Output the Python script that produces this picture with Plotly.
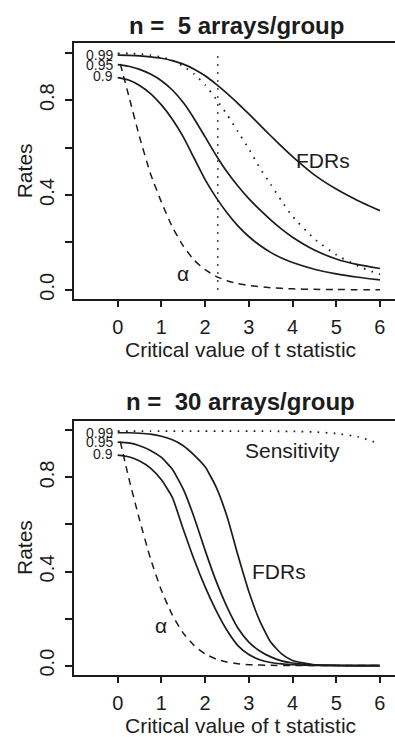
import plotly.graph_objects as go

# ---------------- data ----------------
t_grid = [0, 0.25, 0.5, 0.75, 1.0, 1.25, 1.5, 1.75, 2.0, 2.25, 2.5, 2.75,
          3.0, 3.25, 3.5, 3.75, 4.0, 4.5, 5.0, 5.5, 6.0]
t_alpha = [0.06, 0.25, 0.5, 0.75, 1.0, 1.25, 1.5, 1.75, 2.0, 2.25, 2.5, 2.75,
           3.0, 3.5, 4.0, 4.5, 5.0, 6.0]

# n = 5 arrays/group
fdr5_099 = [0.99, 0.989, 0.987, 0.983, 0.977, 0.967, 0.952, 0.931, 0.903, 0.868, 0.829,
            0.787, 0.742, 0.696, 0.65, 0.605, 0.562, 0.485, 0.425, 0.376, 0.334]
fdr5_095 = [0.95, 0.943, 0.93, 0.91, 0.882, 0.843, 0.79, 0.722, 0.645, 0.568, 0.498,
            0.438, 0.385, 0.338, 0.295, 0.256, 0.222, 0.168, 0.13, 0.106, 0.09]
fdr5_090 = [0.895, 0.885, 0.862, 0.828, 0.78, 0.72, 0.645, 0.555, 0.465, 0.39, 0.325,
            0.27, 0.225, 0.188, 0.158, 0.134, 0.115, 0.087, 0.067, 0.053, 0.042]
sens5 = [0.997, 0.997, 0.995, 0.99, 0.982, 0.967, 0.943, 0.91, 0.865, 0.805, 0.74,
         0.667, 0.595, 0.515, 0.445, 0.375, 0.31, 0.215, 0.148, 0.1, 0.065]
alpha5 = [0.953, 0.82, 0.645, 0.49, 0.37, 0.265, 0.185, 0.125, 0.085, 0.057, 0.038,
          0.026, 0.018, 0.009, 0.004, 0.002, 0.001, 0.0003]
tcrit5 = 2.29

# n = 30 arrays/group
fdr30_099 = [0.99, 0.99, 0.988, 0.984, 0.975, 0.96, 0.935, 0.895, 0.845, 0.76, 0.635,
             0.47, 0.315, 0.19, 0.1, 0.05, 0.022, 0.003, 0.0005, 0.0, 0.0]
fdr30_095 = [0.95, 0.947, 0.935, 0.915, 0.885, 0.835, 0.75, 0.63, 0.49, 0.36, 0.25,
             0.16, 0.1, 0.062, 0.037, 0.02, 0.011, 0.003, 0.001, 0.0, 0.0]
fdr30_090 = [0.895, 0.888, 0.87, 0.84, 0.79, 0.715, 0.58, 0.45, 0.335, 0.235, 0.15,
             0.085, 0.047, 0.025, 0.013, 0.007, 0.0035, 0.001, 0.0003, 0.0, 0.0]
sens30 = [0.997, 0.997, 0.997, 0.997, 0.997, 0.997, 0.997, 0.997, 0.997, 0.997, 0.997,
          0.997, 0.997, 0.997, 0.997, 0.996, 0.996, 0.993, 0.987, 0.973, 0.943]
alpha30 = [0.952, 0.80, 0.62, 0.455, 0.32, 0.215, 0.138, 0.085, 0.05, 0.028, 0.015,
           0.008, 0.004, 0.001, 0.0002, 0.0, 0.0, 0.0]

pi0_labels = ["0.99", "0.95", "0.9"]
pi0_values = [0.99, 0.95, 0.9]
x_ticks = [0, 1, 2, 3, 4, 5, 6]
y_ticks = [0, 0.2, 0.4, 0.6, 0.8, 1.0]
y_ticktext = ["0.0", "", "0.4", "", "0.8", ""]
titles = ["n = \u00a05 arrays/group", "n = \u00a030 arrays/group"]

# ---------------- styling ----------------
W, H = 395, 737
INK = "#1c1c1c"
FONT = "Liberation Sans, Arial, Helvetica, sans-serif"
DOT = "1.6px,6.4px"
DASH = "7px,5.5px"

fig = go.Figure()


def line(x, y, ax, dash="solid", width=1.7):
    xa, ya = ("x", "y") if ax == 1 else ("x2", "y2")
    fig.add_trace(go.Scatter(
        x=x, y=y, mode="lines", xaxis=xa, yaxis=ya,
        line=dict(color=INK, width=width, dash=dash, shape="spline", smoothing=0.5),
        hoverinfo="skip", showlegend=False))


# panel 1
line(t_grid, fdr5_099, 1)
line(t_grid, fdr5_095, 1)
line(t_grid, fdr5_090, 1)
line(t_grid, sens5, 1, DOT, 1.8)
line(t_alpha, alpha5, 1, DASH, 1.5)
fig.add_trace(go.Scatter(x=[tcrit5, tcrit5], y=[0, 1.01], mode="lines",
                         line=dict(color=INK, width=1.6, dash=DOT),
                         hoverinfo="skip", showlegend=False))
# panel 2
line(t_grid, fdr30_099, 2)
line(t_grid, fdr30_095, 2)
line(t_grid, fdr30_090, 2)
line(t_grid, sens30, 2, DOT, 1.8)
line(t_alpha, alpha30, 2, DASH, 1.5)

# domains in pixels
px_left = 74
p1_top, p1_bot = 43.3, 299.3
p2_top, p2_bot = 421.0, 675.0


def dom_y(top, bot):
    return [1 - bot / H, 1 - top / H]


xdom = [px_left / W, 1.0]
xr = [-1.0, 6.345]
yr = [-0.04, 1.04]

xaxis_common = dict(
    domain=xdom, range=xr, tickvals=x_ticks, ticks="outside", ticklen=6,
    tickwidth=1.6, tickcolor=INK, showline=True, linewidth=1.8, linecolor=INK,
    mirror=True, showgrid=False, zeroline=False,
    tickfont=dict(family=FONT, size=20, color=INK), ticklabelstandoff=3,
    fixedrange=True)
yaxis_common = dict(
    range=yr, tickvals=y_ticks, ticktext=y_ticktext, tickangle=-90,
    ticks="outside", ticklen=7, tickwidth=1.6, tickcolor=INK,
    showline=True, linewidth=1.8, linecolor=INK, mirror=False,
    showgrid=False, zeroline=False,
    tickfont=dict(family=FONT, size=20, color=INK), ticklabelstandoff=3,
    fixedrange=True)

fig.update_layout(
    width=W, height=H, margin=dict(l=0, r=0, t=0, b=0),
    paper_bgcolor="white", plot_bgcolor="white",
    xaxis=dict(anchor="y", **xaxis_common),
    yaxis=dict(anchor="x", domain=dom_y(p1_top, p1_bot), **yaxis_common),
    xaxis2=dict(anchor="y2", **xaxis_common),
    yaxis2=dict(anchor="x2", domain=dom_y(p2_top, p2_bot), **yaxis_common),
)

ann = []


def txt(text, x, y, size, xref="paper", yref="paper", xanchor="center",
        yanchor="middle", bold=False, angle=0, xshift=0):
    ann.append(dict(
        text=("<b>%s</b>" % text) if bold else text, x=x, y=y, xref=xref, yref=yref,
        xanchor=xanchor, yanchor=yanchor, showarrow=False, textangle=angle,
        xshift=xshift, font=dict(family=FONT, size=size, color=INK)))


# titles
txt(titles[0], 236 / W, 1 - 26 / H, 24, bold=True)
txt(titles[1], 240 / W, 1 - 402 / H, 24, bold=True)
# axis titles
for top, bot in [(p1_top, p1_bot), (p2_top, p2_bot)]:
    txt("Critical value of t statistic", 240 / W, 1 - (bot + 50) / H, 21)
    txt("Rates", 24 / W, 1 - (top + bot) / 2 / H, 21, angle=-90)

# in-plot labels
for lab, v in zip(pi0_labels, pi0_values):
    txt(lab, 0, v, 14, xref="x", yref="y", xanchor="right", xshift=-3)
    txt(lab, 0, v, 14, xref="x2", yref="y2", xanchor="right", xshift=-3)
txt("FDRs", 4.7, 0.547, 21, xref="x", yref="y")
txt("\u03b1", 1.5, 0.07, 21, xref="x", yref="y")
txt("Sensitivity", 4.0, 0.915, 21, xref="x2", yref="y2")
txt("FDRs", 3.7, 0.40, 21, xref="x2", yref="y2")
txt("\u03b1", 1.0, 0.17, 21, xref="x2", yref="y2")

fig.update_layout(annotations=ann)
fig.write_html("out.html")
